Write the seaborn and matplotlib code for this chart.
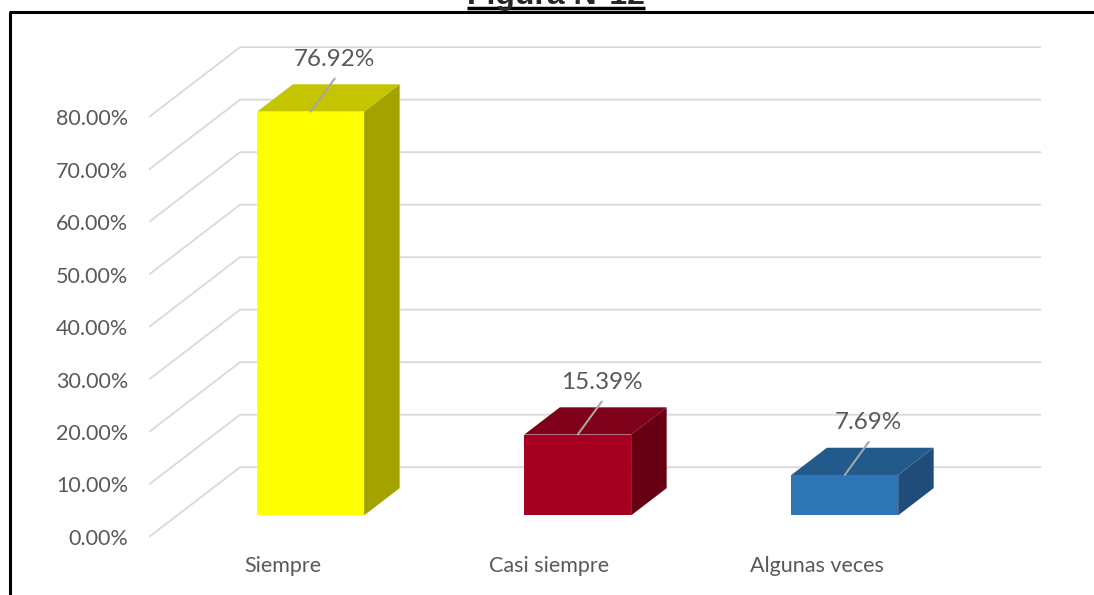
import numpy as np
import pandas as pd
import seaborn as sns
import matplotlib.pyplot as plt
from matplotlib.lines import Line2D
from matplotlib.ticker import FuncFormatter

categorias = ["Siempre", "Casi siempre", "Algunas veces"]
porcentajes = [76.92, 15.39, 7.69]
etiquetas = ["76.92%", "15.39%", "7.69%"]
y_ticks = [0, 10, 20, 30, 40, 50, 60, 70, 80]

col_frente = ["#FFFF00", "#A50021", "#2E75B6"]
col_arriba = ["#C4C400", "#7E0019", "#235A8C"]
col_lado = ["#A3A300", "#680014", "#1F4C78"]

sns.set_theme(style="white")
plt.rcParams["font.family"] = ["Lato", "DejaVu Sans"]

W, H = 1094, 595
fig = plt.figure(figsize=(W / 100, H / 100), dpi=100)
ax = fig.add_axes([149 / W, (H - 552) / H, (1043.5 - 149) / W, 552 / H])

# profundidad del "3D" (en unidades de datos)
DX, DY = 0.341, 13.3
d0, d1 = 0.31, 0.70
ancho = 0.40

# pared / lineas de cuadricula
for v in y_ticks:
    ax.plot([-0.5, -0.5 + DX, 2.5 + DX], [v, v + DY, v + DY],
            color="#d9d9d9", lw=1.3, zorder=0, solid_capstyle="butt")

df = pd.DataFrame({"cat": categorias, "val": porcentajes})
sns.barplot(data=df, x="cat", y="val", hue="cat", palette=col_frente,
            width=ancho, legend=False, ax=ax, saturation=1, linewidth=0, zorder=3)

for i, p in enumerate(ax.patches):
    # mover la cara frontal hacia dentro de la profundidad
    p.set_x(p.get_x() + d0 * DX)
    p.set_y(p.get_y() + d0 * DY)
    x0, x1 = p.get_x(), p.get_x() + p.get_width()
    b, t = p.get_y(), p.get_y() + p.get_height()
    ddx, ddy = (d1 - d0) * DX, (d1 - d0) * DY
    ax.fill([x0, x1, x1 + ddx, x0 + ddx], [t, t, t + ddy, t + ddy],
            color=col_arriba[i], lw=0, zorder=3)
    ax.fill([x1, x1 + ddx, x1 + ddx, x1], [b, b + ddy, t + ddy, t],
            color=col_lado[i], lw=0, zorder=2)
    # linea guia y etiqueta
    cx = (x0 + x1) / 2
    lx, ly = cx + 24 / 267, t + 33 / 5.25
    ax.plot([cx, lx], [t, ly], color="#a6a6a6", lw=1.5, zorder=4)
    ax.text(lx, ly + 19 / 5.25, etiquetas[i], ha="center", va="center",
            fontsize=17.5, color="#595959", zorder=5)

ax.set_xlim(-0.5, 2.85)
ax.set_ylim(-(552 - 537) / 5.25, 537 / 5.25)
ax.set_yticks(y_ticks)
ax.yaxis.set_major_formatter(FuncFormatter(lambda v, _: "%.2f%%" % v))
ax.set_xticks(range(len(categorias)))
ax.set_xticklabels(categorias)
ax.tick_params(axis="y", length=0, pad=15, labelsize=15.5, labelcolor="#595959")
ax.tick_params(axis="x", length=0, pad=3, labelsize=15.5, labelcolor="#595959")
ax.set_xlabel("")
ax.set_ylabel("")
for s in ax.spines.values():
    s.set_visible(False)
ax.patch.set_alpha(0)

# marco y titulo
fig.add_artist(Line2D([9 / W, 1 + 1 / W], [1 - 12 / H, 1 - 12 / H], color="black", lw=2.2,
                      transform=fig.transFigure, solid_capstyle="butt"))
fig.add_artist(Line2D([9.5 / W, 9.5 / W], [0, 1 - 12 / H], color="black", lw=2.2,
                      transform=fig.transFigure, solid_capstyle="butt"))
tit = fig.text(556 / W, 1 - 4 / H, "Figura N°12", ha="center", va="baseline",
               fontsize=23, fontweight="bold", family=["Liberation Sans", "DejaVu Sans"])
fig.canvas.draw()
bb = tit.get_window_extent().transformed(fig.transFigure.inverted())
fig.add_artist(Line2D([bb.x0, bb.x1], [1 - 8 / H, 1 - 8 / H], color="black", lw=2.5,
                      transform=fig.transFigure, solid_capstyle="butt"))

fig.savefig("out.png", dpi=100)
